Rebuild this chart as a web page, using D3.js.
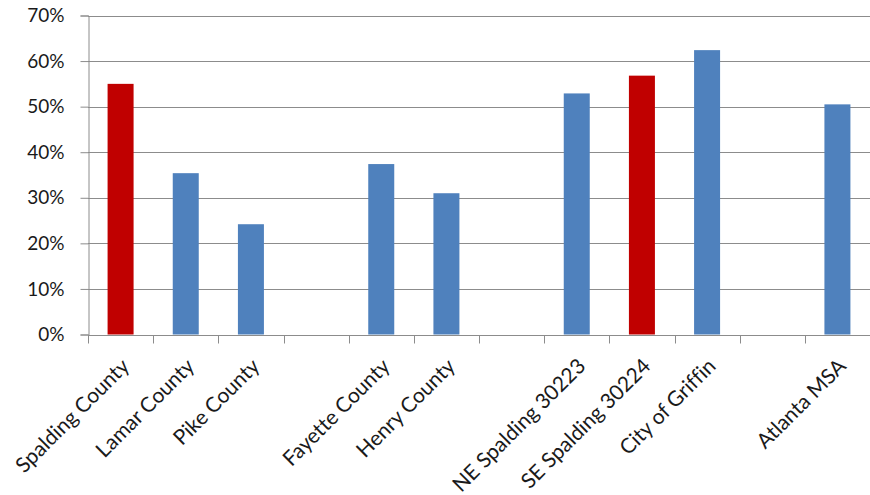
<!DOCTYPE html>
<html>
<head>
<meta charset="utf-8">
<script src="https://cdn.jsdelivr.net/npm/d3@7"></script>
<style>
  html, body { margin: 0; padding: 0; background: #fff; }
  svg text { font-family: Lato, "Open Sans", sans-serif; fill: #1a1a1a; font-variant-ligatures: none; }
</style>
</head>
<body>
<svg id="chart" width="870" height="495"></svg>
<script>
// Area share by place; empty strings are spacer slots between groups
const categories = ["Spalding County", "Lamar County", "Pike County", "",
  "Fayette County", "Henry County", "",
  "NE Spalding 30223", "SE Spalding 30224", "City of Griffin", "",
  "Atlanta MSA"];
const values = [55.0, 35.4, 24.2, null, 37.4, 31.0, null, 52.9, 56.8, 62.4, null, 50.5];
const highlighted = ["Spalding County", "SE Spalding 30224"];
const yTicks = [0, 10, 20, 30, 40, 50, 60, 70];

const svg = d3.select("#chart");
const margin = { left: 88, right: 0, top: 15.5, bottom: 160.5 };
const W = 870, H = 495;

const xs = d3.scaleLinear().domain([0, categories.length]).range([margin.left, W - margin.right]);
const y = d3.scaleLinear().domain([0, 70]).range([H - margin.bottom, margin.top]);

// horizontal gridlines
svg.append("g")
  .selectAll("line")
  .data(yTicks.filter(t => t > 0))
  .join("line")
  .attr("x1", margin.left).attr("x2", W)
  .attr("y1", d => Math.round(y(d)) + 0.5).attr("y2", d => Math.round(y(d)) + 0.5)
  .attr("stroke", "#8c8c8c").attr("stroke-width", 1);

// bars
const data = categories.map((c, i) => ({ c, i, v: values[i] })).filter(d => d.v != null);
const bw = 26;
svg.append("g")
  .selectAll("rect")
  .data(data)
  .join("rect")
  .attr("x", d => xs(d.i + 0.5) - bw / 2)
  .attr("width", bw)
  .attr("y", d => y(d.v))
  .attr("height", d => y(0) - y(d.v))
  .attr("fill", d => highlighted.includes(d.c) ? "#c00000" : "#4f81bd");

// y axis
const yAxis = svg.append("g")
  .attr("transform", `translate(${margin.left + 0.5},0)`)
  .call(d3.axisLeft(y).tickValues(yTicks).tickSize(8).tickFormat(d => d + "%"));
yAxis.select(".domain").attr("stroke", "#8c8c8c");
yAxis.selectAll(".tick line").attr("stroke", "#8c8c8c");
yAxis.selectAll(".tick text")
  .attr("x", -24)
  .attr("font-size", 19)
  .style("font-family", "Lato, 'Open Sans', sans-serif")
  .attr("fill", "#1a1a1a");

// x axis baseline and boundary ticks
const x0 = Math.round(y(0)) + 0.5;
svg.append("line")
  .attr("x1", margin.left).attr("x2", W)
  .attr("y1", x0).attr("y2", x0)
  .attr("stroke", "#8c8c8c");
svg.append("g")
  .selectAll("line")
  .data(d3.range(categories.length + 1))
  .join("line")
  .attr("x1", d => Math.round(xs(d)) + 0.5).attr("x2", d => Math.round(xs(d)) + 0.5)
  .attr("y1", x0).attr("y2", x0 + 8)
  .attr("stroke", "#8c8c8c");

// rotated category labels
svg.append("g")
  .selectAll("text")
  .data(data)
  .join("text")
  .attr("transform", d => `translate(${xs(d.i + 0.5) + 10},${x0 + 32}) rotate(-45)`)
  .attr("text-anchor", "end")
  .attr("font-size", 21)
  .text(d => d.c);
</script>
</body>
</html>
